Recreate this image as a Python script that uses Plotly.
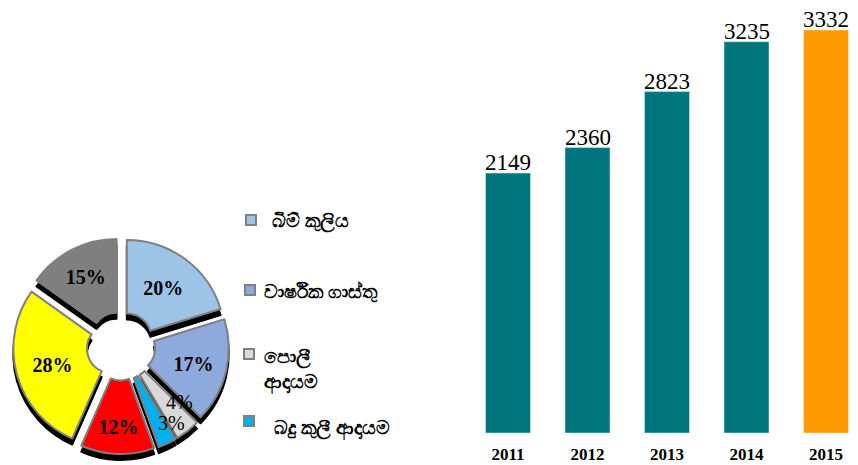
import plotly.graph_objects as go

# revenue share (pie)
shares = [20, 17, 4, 3, 12, 28, 15]
share_colors = ["#9DC3E6", "#8EA9DB", "#D9D9D9", "#00B0F0", "#FF0000", "#FFFF00", "#7F7F7F"]

# legend entries shown beside the pie
legend_labels = ["බිම් කුලිය", "වාර්ෂික ගාස්තු", "පොලී<br>ආදායම", "බදු කුලී ආදායම"]
legend_colors = ["#9DC3E6", "#8EA9DB", "#D9D9D9", "#00B0F0"]

# yearly totals (bars)
years = ["2011", "2012", "2013", "2014", "2015"]
totals = [2149, 2360, 2823, 3235, 3332]
bar_colors = ["#00767C", "#00767C", "#00767C", "#00767C", "#FF9900"]

# the page body adds an 8px margin, so the figure is drawn 8px in
OFF = 8
W, H = 858 - OFF, 465 - OFF


def px_x(v):
    return (v - OFF) / W


def px_y(v):
    return 1 - (v - OFF) / H


fig = go.Figure()

# pie domain in pixels (page coords)
pie_left, pie_right, pie_top, pie_bottom = 12, 230, 238, 454
shadow_dy = 6

fig.add_trace(
    go.Pie(
        values=shares,
        sort=False,
        direction="clockwise",
        hole=0.25,
        pull=0.1,
        marker=dict(colors=["#000000"] * len(shares), line=dict(color="#000000", width=2)),
        textinfo="none",
        hoverinfo="skip",
        showlegend=False,
        domain=dict(x=[px_x(pie_left), px_x(pie_right)],
                    y=[px_y(pie_bottom + shadow_dy), px_y(pie_top + shadow_dy)]),
    )
)

# the two thin slices get their labels placed beside them, as in the original
pie_text = ["" if v < 5 else f"{v}%" for v in shares]

fig.add_trace(
    go.Pie(
        values=shares,
        sort=False,
        direction="clockwise",
        hole=0.25,
        pull=0.1,
        marker=dict(colors=share_colors, line=dict(color="#7F7F7F", width=2)),
        text=pie_text,
        textinfo="text",
        textposition="inside",
        insidetextorientation="horizontal",
        textfont=dict(family="Liberation Serif", size=20, color="black", weight="bold"),
        showlegend=False,
        domain=dict(x=[px_x(pie_left), px_x(pie_right)],
                    y=[px_y(pie_bottom), px_y(pie_top)]),
    )
)

small_pos = {2: (179, 402), 3: (171, 423)}
for i, (sx, sy) in small_pos.items():
    fig.add_annotation(
        x=px_x(sx), y=px_y(sy), xref="paper", yref="paper",
        xanchor="center", yanchor="middle",
        text=f"{shares[i]}%", showarrow=False,
        font=dict(family="Liberation Serif", size=20, color="black"),
    )

fig.add_trace(
    go.Bar(
        x=years,
        y=totals,
        marker=dict(color=bar_colors),
        showlegend=False,
        xaxis="x",
        yaxis="y",
    )
)

# value labels sit right on top of each bar (category index on the x axis)
for i, total in enumerate(totals):
    fig.add_annotation(
        x=i, y=total, xref="x", yref="y",
        xanchor="center", yanchor="bottom", yshift=-4,
        text=str(total), showarrow=False,
        font=dict(family="Liberation Serif", size=23, color="black"),
    )

# hand-placed legend beside the pie
legend_pos = [(251, 220, 270, 220), (250, 290, 262, 291), (249, 354, 262, 369), (249, 421, 272, 427)]
for (mx, my, tx, ty), label, color in zip(legend_pos, legend_labels, legend_colors):
    fig.add_shape(
        type="rect", xref="paper", yref="paper",
        x0=px_x(mx - 5), x1=px_x(mx + 5), y0=px_y(my + 5), y1=px_y(my - 5),
        fillcolor=color, line=dict(color="#808080", width=2),
    )
    fig.add_annotation(
        x=px_x(tx), y=px_y(ty), xref="paper", yref="paper",
        xanchor="left", yanchor="middle", align="left",
        text=label, showarrow=False,
        font=dict(family="Noto Sans", size=19, color="black", weight="bold"),
    )

fig.update_layout(
    width=W,
    height=H,
    margin=dict(l=0, r=0, t=0, b=0),
    paper_bgcolor="white",
    plot_bgcolor="white",
    bargap=0.434,
    xaxis=dict(
        type="category",
        domain=[px_x(468.25), 1],
        range=[-0.5, -0.5 + (858 - 468.25) / 79.5],
        showgrid=False,
        zeroline=False,
        showline=False,
        ticks="",
        ticklabelstandoff=9,
        tickfont=dict(family="Liberation Serif", size=17, color="black", weight="bold"),
    ),
    yaxis=dict(
        domain=[px_y(433), 1],
        range=[0, 3332 * (433 - OFF) / (433 - 30)],
        visible=False,
    ),
)

fig.write_html("out.html")
